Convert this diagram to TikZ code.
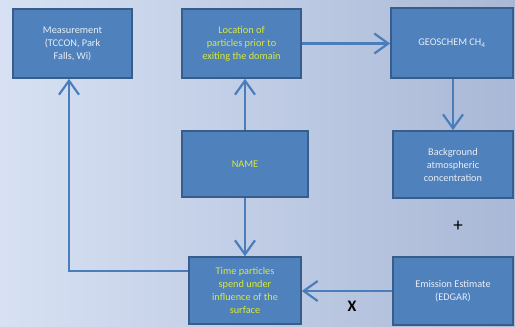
\documentclass[tikz,border=0pt]{standalone}
\usepackage{fontspec}
\setmainfont{Carlito}
\usetikzlibrary{arrows.meta}
\definecolor{boxfill}{HTML}{4F81BD}
\definecolor{boxdraw}{HTML}{385D8A}
\definecolor{linec}{HTML}{4A7EBB}
\definecolor{ytext}{HTML}{D9E93A}
\definecolor{wtext}{HTML}{E8EEF7}
\definecolor{bgl}{HTML}{D7E1F3}
\definecolor{bgr}{HTML}{A9B8D6}
\begin{document}
\begin{tikzpicture}[x=1pt,y=-1pt,
  box/.style={draw=boxdraw,line width=1.6pt,fill=boxfill,inner sep=0pt,align=center,
    font=\fontsize{10.3}{13}\selectfont},
  wbox/.style={box,text=wtext},
  ybox/.style={box,text=ytext},
  conn/.style={draw=linec,line width=2.2pt,-{Straight Barb[length=14pt,width=20pt,line width=2.2pt]}}]
\shade[left color=bgl,right color=bgr] (0,0) rectangle (515,327);
\useasboundingbox (0,0) rectangle (515,327);
\node[wbox,minimum width=119pt,minimum height=69pt] (meas) at (72.5,43.5) {Measurement\\(TCCON, Park\\Falls, Wi)};
\node[ybox,minimum width=119pt,minimum height=69pt] (loc) at (241.5,43.5) {Location of\\particles prior to\\exiting the domain};
\node[wbox,minimum width=122pt,minimum height=70pt] (geo) at (452,43) {GEOSCHEM CH\textsubscript{4}};
\node[ybox,minimum width=126pt,minimum height=66pt] (name) at (245,164) {NAME};
\node[wbox,minimum width=120pt,minimum height=67pt] (bg) at (453,164.5) {Background\\atmospheric\\concentration};
\node[ybox,minimum width=112pt,minimum height=67pt] (time) at (245,290.5) {Time particles\\spend under\\influence of the\\surface};
\node[wbox,minimum width=120pt,minimum height=68pt] (emis) at (453,291) {Emission Estimate\\(EDGAR)};
\node[font=\fontsize{19}{19}\selectfont] (plus) at (458,226) {+};
\node[font=\fontsize{16}{16}\selectfont\bfseries] (x) at (352,306) {X};
\coordinate (corner) at (69,271);
\draw[conn] (time.west |- corner) -- (corner) -- (corner |- meas.south);
\draw[conn] (name.north) -- (loc.south -| name.north);
\draw[conn] (name.south) -- (time.north);
\draw[conn] (loc.east) -- (geo.west |- loc.east);
\draw[conn] (geo.south -| bg.north) -- (bg.north);
\draw[conn] (emis.west) -- (time.east |- emis.west);
\end{tikzpicture}
\end{document}
